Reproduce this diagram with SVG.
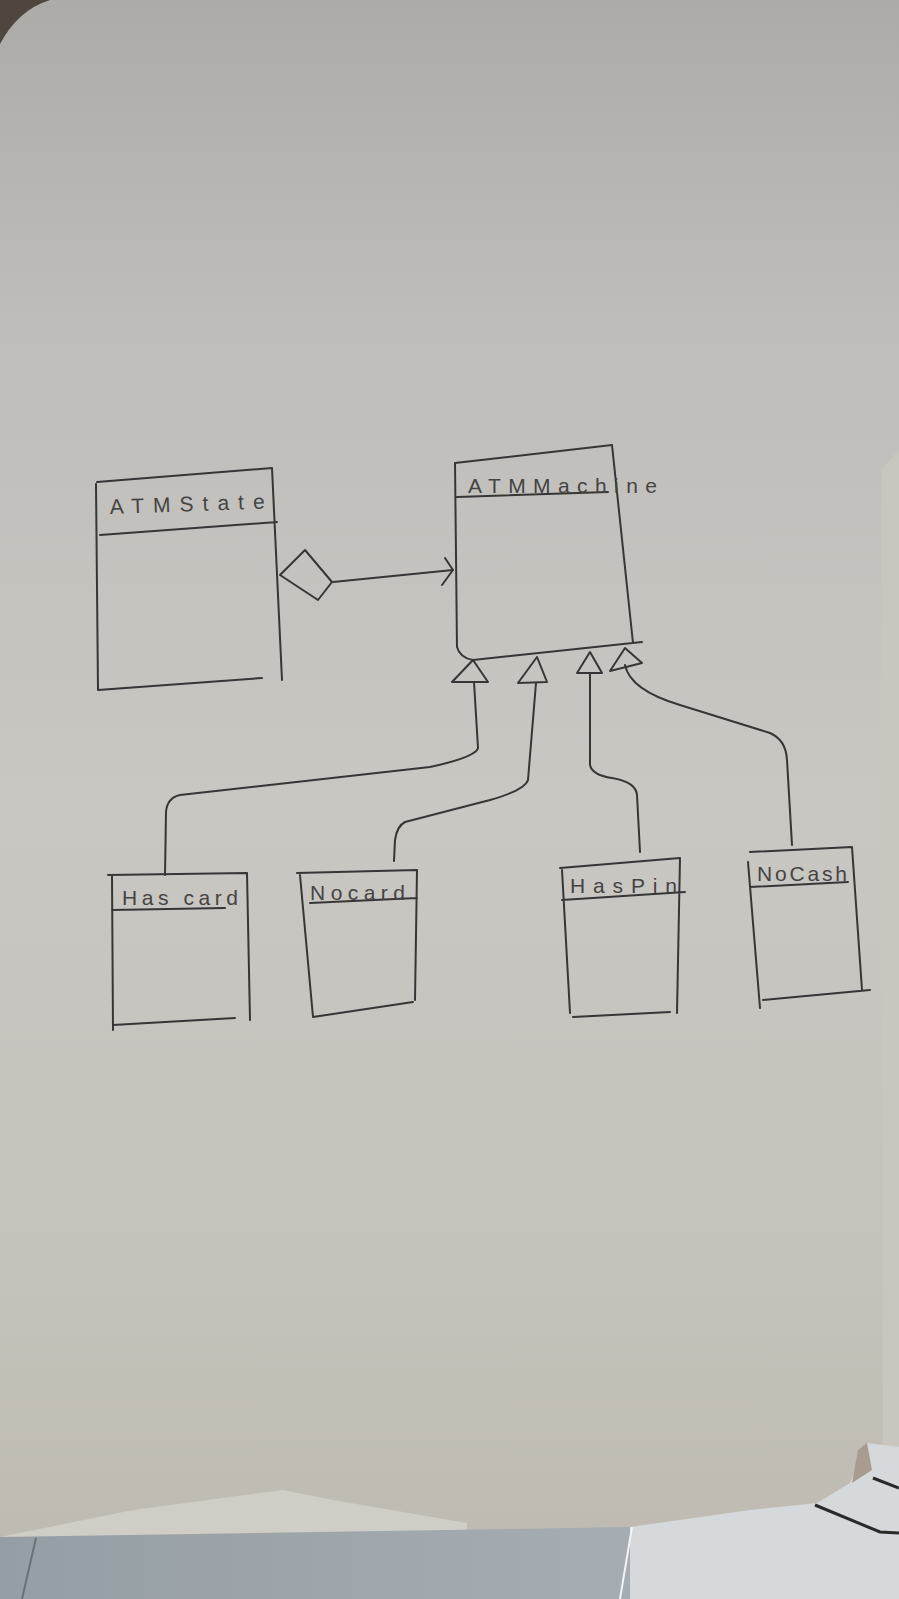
<svg xmlns="http://www.w3.org/2000/svg" width="899" height="1599" viewBox="0 0 899 1599">
<defs>
<linearGradient id="paper" x1="0" y1="0" x2="0" y2="1">
<stop offset="0" stop-color="#adaba7"/>
<stop offset="0.2" stop-color="#bfbdb9"/>
<stop offset="0.5" stop-color="#c9c7c2"/>
<stop offset="0.8" stop-color="#c5c2bb"/>
<stop offset="1" stop-color="#bdb9b0"/>
</linearGradient>
<linearGradient id="desk" x1="0" y1="0" x2="1" y2="0">
<stop offset="0" stop-color="#959ea4"/>
<stop offset="1" stop-color="#a6adb2"/>
</linearGradient>
</defs>
<style>
.ink{fill:none;stroke:#363636;stroke-width:2;stroke-linecap:round;stroke-linejoin:round}
.lbl{font-family:"Liberation Sans",Arial,sans-serif;fill:#444;font-size:21px}
</style>
<g id="background">
<rect x="0" y="0" width="899" height="1599" fill="url(#paper)"/>
<path d="M0,0 L50,0 Q18,10 0,44 Z" fill="#4f4640"/>
<path d="M881,470 L899,450 L899,1447 L883,1450 Z" fill="#c9c6c0"/>
<path d="M0,1537 L133,1510 L283,1490 L333,1500 L467,1523 L467,1540 L0,1540 Z" fill="#d0cdc6"/>
<path d="M0,1537 L630,1527 L630,1599 L0,1599 Z" fill="url(#desk)"/>
<path d="M630,1527 L750,1510 L817,1503 L850,1483 L867,1443 L899,1447 L899,1599 L630,1599 Z" fill="#d5d9dc"/>
<path d="M852,1483 L858,1450 L867,1443 L872,1470 Z" fill="#a89c90"/>
<path d="M632,1527 L620,1599" stroke="#f2f4f5" stroke-width="2" fill="none"/>
<path d="M36,1538 L22,1599" stroke="#6b7277" stroke-width="2" fill="none"/>
<path d="M815,1505 L880,1532 L899,1533" stroke="#2a2a2a" stroke-width="3" fill="none"/>
<path d="M873,1478 L899,1488" stroke="#2a2a2a" stroke-width="3" fill="none"/>
</g>
<g id="connectors" class="ink">
<path d="M280,575 L305,550 L332,582 L318,600 Z"/>
<path d="M333,582 L453,570"/>
<path d="M445,558 L453,570 L442,585"/>
<path d="M473,660 L452,682 L488,682 Z"/>
<path d="M474,682 L478,748 Q476,757 430,767 L180,795 Q167,798 166,812 L165,875"/>
<path d="M537,657 L518,683 L547,682 Z"/>
<path d="M536,683 L528,780 Q525,790 490,800 L405,822 Q397,826 395,840 L394,861"/>
<path d="M590,652 L577,673 L602,673 Z"/>
<path d="M590,673 L590,765 Q592,775 612,778 Q636,782 637,795 L640,852"/>
<path d="M625,648 L610,671 L642,663 Z"/>
<path d="M625,665 Q630,690 680,705 L770,733 Q786,740 787,760 L792,845"/>
</g>
<g id="node-atmstate">
<path class="ink" d="M97,482 L272,468 L282,680 M96,484 L98,690 L262,678 M100,535 L277,522"/>
<text class="lbl" x="110" y="514" textLength="155" lengthAdjust="spacing" transform="rotate(-2 110 514)">ATMState</text>
</g>
<g id="node-atmmachine">
<path class="ink" d="M455,463 L612,445 L633,643 M455,463 L457,647 Q460,658 473,660 L642,642 M457,497 L608,492"/>
<text class="lbl" x="468" y="493" textLength="189" lengthAdjust="spacing">ATMMachine</text>
</g>
<g id="node-hascard">
<path class="ink" d="M108,875 L247,873 L250,1020 M112,875 L113,1030 M113,1025 L235,1018 M112,910 L225,908"/>
<text class="lbl" x="122" y="905" textLength="116" lengthAdjust="spacing" font-size="20">Has card</text>
</g>
<g id="node-nocard">
<path class="ink" d="M297,873 L417,870 L415,1000 M300,875 L313,1017 L413,1002 M310,903 L417,898"/>
<text class="lbl" x="310" y="900" textLength="95" lengthAdjust="spacing" font-size="20">Nocard</text>
</g>
<g id="node-haspin">
<path class="ink" d="M560,868 L680,858 L677,1013 M562,870 L570,1013 M573,1017 L670,1012 M562,900 L685,892"/>
<text class="lbl" x="570" y="893" textLength="107" lengthAdjust="spacing" font-size="20">HasPin</text>
</g>
<g id="node-nocash">
<path class="ink" d="M750,852 L852,847 L862,990 M748,862 L760,1008 M763,1000 L870,990 M750,887 L848,882"/>
<text class="lbl" x="757" y="881" textLength="90" lengthAdjust="spacing" font-size="18">NoCash</text>
</g>
</svg>
